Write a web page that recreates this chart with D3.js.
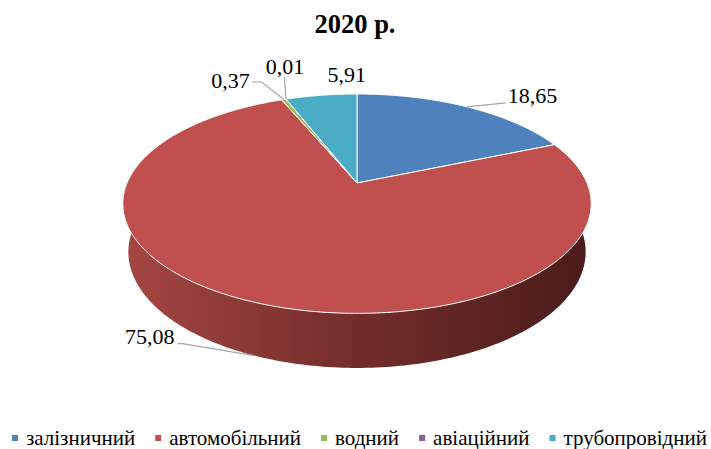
<!DOCTYPE html>
<html>
<head>
<meta charset="utf-8">
<script src="https://cdn.jsdelivr.net/npm/d3@7"></script>
<style>
  html, body { margin: 0; padding: 0; background: #fff; }
  svg { display: block; }
</style>
</head>
<body>
<svg id="chart" width="711" height="449"></svg>
<script>
// ---- data ----
const title = "2020 р.";
const categories = ["залізничний", "автомобільний", "водний", "авіаційний", "трубопровідний"];
const values = [18.65, 75.08, 0.37, 0.01, 5.91];
const valueLabels = ["18,65", "75,08", "0,37", "0,01", "5,91"];
const colors = ["#4F81BD", "#C0504D", "#9BBB59", "#8064A2", "#4BACC6"];

// ---- layout ----
const W = 711, H = 449;
const cx = 357, cy = 183;       // projected pie centre
const sinE = 0.46, cosE = 0.888; // tilt
const D = 4.71, K = 1083;        // perspective camera distance & focal
const depth = 0.238;             // thickness (radius = 1)

const svg = d3.select("#chart");
const serif = "Liberation Serif, Times New Roman, serif";

// perspective projection of a point on the disc at angle a (clockwise from top), height z
function proj(a, z, r = 1) {
  const X = r * Math.sin(a), Y = r * Math.cos(a);
  const yc = Y * sinE + z * cosE;
  const zc = D + Y * cosE - z * sinE;
  return [cx + K * X / zc, cy - K * yc / zc];
}

const pie = d3.pie().sort(null).value(d => d)(values);

// gradient for side wall
const defs = svg.append("defs");
const grad = defs.append("linearGradient")
  .attr("id", "wallGrad").attr("gradientUnits", "userSpaceOnUse")
  .attr("x1", proj(-Math.PI / 2, 0)[0]).attr("x2", proj(Math.PI / 2, 0)[0])
  .attr("y1", 0).attr("y2", 0);
grad.append("stop").attr("offset", 0).attr("stop-color", "#a44642");
grad.append("stop").attr("offset", 0.5).attr("stop-color", "#722d2b");
grad.append("stop").attr("offset", 1).attr("stop-color", "#4a1c1b");

function arcPoints(a0, a1, z, n) {
  const pts = [];
  const steps = Math.max(2, Math.ceil(n * (a1 - a0) / (2 * Math.PI)));
  for (let i = 0; i <= steps; i++) pts.push(proj(a0 + (a1 - a0) * i / steps, z));
  return pts;
}
const line = d3.line();

// side walls (front half only)
const g = svg.append("g");
pie.forEach((p, i) => {
  const s = Math.max(p.startAngle, Math.PI / 2);
  const e = Math.min(p.endAngle, 3 * Math.PI / 2);
  if (e <= s) return;
  const top = arcPoints(s, e, 0, 360);
  const bot = arcPoints(s, e, -depth, 360).reverse();
  g.append("path")
    .attr("d", line(top.concat(bot)) + "Z")
    .attr("fill", i === 1 ? "url(#wallGrad)" : d3.color(colors[i]).darker(1))
    .attr("stroke", "none");
});

// top faces
pie.forEach((p, i) => {
  const pts = [[cx, cy]].concat(arcPoints(p.startAngle, p.endAngle, 0, 720));
  g.append("path")
    .attr("d", line(pts) + "Z")
    .attr("fill", colors[i])
    .attr("stroke", "#ffffff")
    .attr("stroke-width", 1)
    .attr("stroke-linejoin", "round");
});

// ---- data labels ----
const labelLayout = [
  { dx: 41, dy: -4, anchor: "start", leader: [[39, -4]], z: 0 },
  { dx: -80, dy: -12, anchor: "end", leader: [[-72, -12], [-77, -12]], z: -depth },
  { dx: -34, dy: -11.5, anchor: "end", leader: [[-22, -17.5], [-32, -17.5]], z: 0 },
  { dx: -1, dy: -25, anchor: "middle", leader: [[-1.5, -22]], z: 0 },
  { dx: 25.5, dy: -13, anchor: "middle", leader: null, z: 0 }
];
const lg = svg.append("g");
pie.forEach((p, i) => {
  const L = labelLayout[i];
  const mid = (p.startAngle + p.endAngle) / 2;
  const [ax, ay] = proj(mid, L.z);
  if (L.leader) {
    const pts = [[ax, ay]].concat(L.leader.map(([dx, dy]) => [ax + dx, ay + dy]));
    lg.append("path").attr("d", line(pts))
      .attr("fill", "none").attr("stroke", "#a6a6a6").attr("stroke-width", 1.2);
  }
  lg.append("text")
    .attr("x", ax + L.dx).attr("y", ay + L.dy)
    .attr("text-anchor", L.anchor)
    .style("font-family", serif).style("font-size", "22px")
    .attr("fill", "#000")
    .text(valueLabels[i]);
});

// ---- title ----
svg.append("text")
  .attr("x", 355).attr("y", 33)
  .attr("text-anchor", "middle")
  .style("font-family", serif).style("font-weight", "bold").style("font-size", "26.5px")
  .text(title);

// ---- legend ----
const legFont = 21, mk = 6, mkGap = 8;
const legLeft = 12, legRight = 707;
const leg = svg.append("g");
const items = categories.map((c, i) => {
  const it = leg.append("g");
  it.append("rect").attr("width", mk).attr("height", mk).attr("y", -mk / 2).attr("fill", colors[i]);
  const t = it.append("text").attr("x", mk + mkGap).attr("y", 7)
    .style("font-family", serif).style("font-size", legFont + "px").text(c);
  return { g: it, w: mk + mkGap + t.node().getComputedTextLength() };
});
const itemGap = Math.max(10, ((legRight - legLeft) - d3.sum(items, d => d.w)) / (items.length - 1));
const total = d3.sum(items, d => d.w) + itemGap * (items.length - 1);
let x0 = (legLeft + legRight) / 2 - total / 2;
items.forEach(it => {
  it.g.attr("transform", `translate(${x0},438)`);
  x0 += it.w + itemGap;
});
</script>
</body>
</html>
